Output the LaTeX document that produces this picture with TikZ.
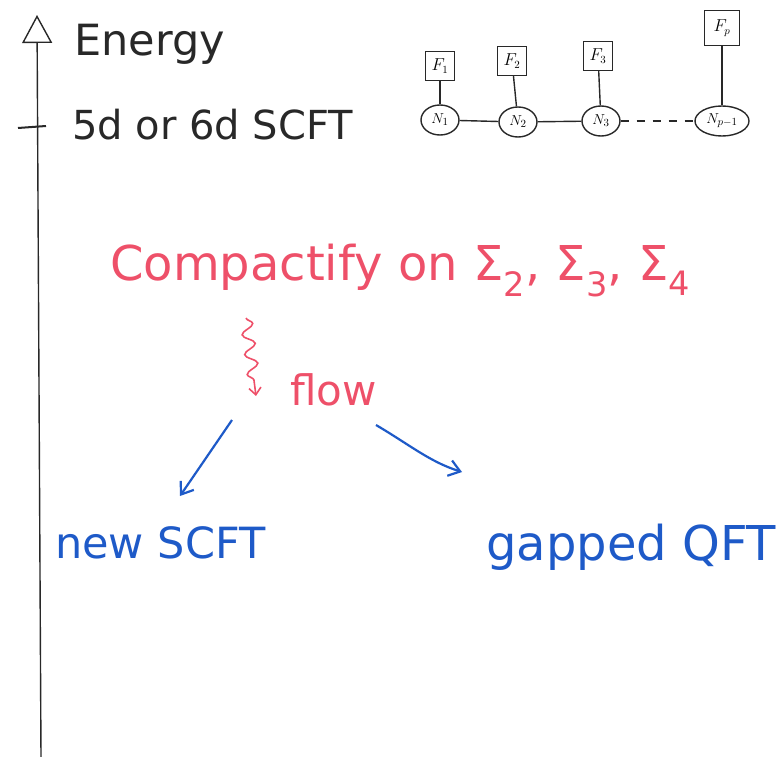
\documentclass[tikz,border=0pt]{standalone}
\usepackage{fontspec}
\setmainfont{DejaVu Sans}
\usetikzlibrary{arrows.meta,decorations.pathmorphing,shapes.geometric}
\definecolor{penred}{RGB}{238,80,105}
\definecolor{penblue}{RGB}{30,90,200}
\definecolor{pengray}{RGB}{40,40,40}
\begin{document}
\begin{tikzpicture}[x=1pt,y=-1pt,
  ink/.style={draw=pengray,line width=1.4pt},
  gauge/.style={ink,ellipse,minimum width=38pt,minimum height=30pt,inner sep=0pt,font=\fontsize{15}{15}\selectfont},
  flav/.style={ink,rectangle,minimum size=29pt,inner sep=1pt,font=\fontsize{16}{16}\selectfont},
  redtxt/.style={text=penred},
  bluetxt/.style={text=penblue},
  bluearrow/.style={draw=penblue,line width=2.2pt,-{Straight Barb[length=11pt,width=16pt]}},
]
\useasboundingbox (0,0) rectangle (782,757);
% axis
\coordinate (axb) at (41,757);
\coordinate (axt) at (37,15);
\draw[ink,-{Triangle[open,length=28pt,width=30pt]}] (axb) -- (axt);
\coordinate (tl) at (18,128);
\coordinate (tr) at (46,126);
\draw[ink,line width=2pt] (tl) -- (tr);
\node[anchor=base west,inner sep=0pt,text=pengray,font=\fontsize{43}{43}\selectfont] (energy) at (74,56) {Energy};
\node[anchor=base west,inner sep=0pt,text=pengray,font=\fontsize{40}{40}\selectfont] (uv) at (72,140) {5d or 6d SCFT};
% quiver
\node[gauge] (n1) at (440,120) {$N_1$};
\node[gauge] (n2) at (518,122) {$N_2$};
\node[gauge] (n3) at (601,121) {$N_3$};
\node[gauge,minimum width=54pt] (np) at (722,121) {$N_{p-1}$};
\node[flav] (f1) at (440,66) {$F_1$};
\node[flav] (f2) at (512,61) {$F_2$};
\node[flav] (f3) at (598,56) {$F_3$};
\node[flav,minimum size=35pt] (fp) at (722,28) {$F_p$};
\draw[ink] (n1) -- (n2);
\draw[ink] (n2) -- (n3);
\draw[ink,dash pattern=on 8pt off 8pt] (n3) -- (np);
\draw[ink] (n1) -- (f1);
\draw[ink] (n2) -- (f2);
\draw[ink] (n3) -- (f3);
\draw[ink] (np) -- (fp);
% compactification
\node[redtxt,anchor=base west,inner sep=0pt,font=\fontsize{48}{48}\selectfont] (comp) at (110,280) {Compactify on Σ\textsubscript{2}, Σ\textsubscript{3}, Σ\textsubscript{4}};
\node[redtxt,anchor=base west,inner sep=0pt,font=\fontsize{42}{42}\selectfont] (flow) at (290,405) {flow};
\coordinate (ws) at (246,318);
\coordinate (we) at (256,396);
\draw[draw=penred,line width=1.6pt,decorate,decoration={snake,amplitude=6pt,segment length=20pt,post length=8pt},-{Straight Barb[length=7pt,width=12pt]}] (ws) -- (we);
% outcomes
\node[bluetxt,anchor=base west,inner sep=0pt,font=\fontsize{43}{43}\selectfont] (newscft) at (55,558) {new SCFT};
\node[bluetxt,anchor=base west,inner sep=0pt,font=\fontsize{48}{48}\selectfont] (gapped) at (486,560) {gapped QFT};
\coordinate (a1s) at (232,420);
\coordinate (a1e) at (180,496);
\draw[bluearrow] (a1s) -- (a1e);
\coordinate (a2s) at (376,425);
\coordinate (a2e) at (462,472);
\draw[bluearrow] (a2s) .. controls (410,445) and (430,462) .. (a2e);
\end{tikzpicture}
\end{document}
